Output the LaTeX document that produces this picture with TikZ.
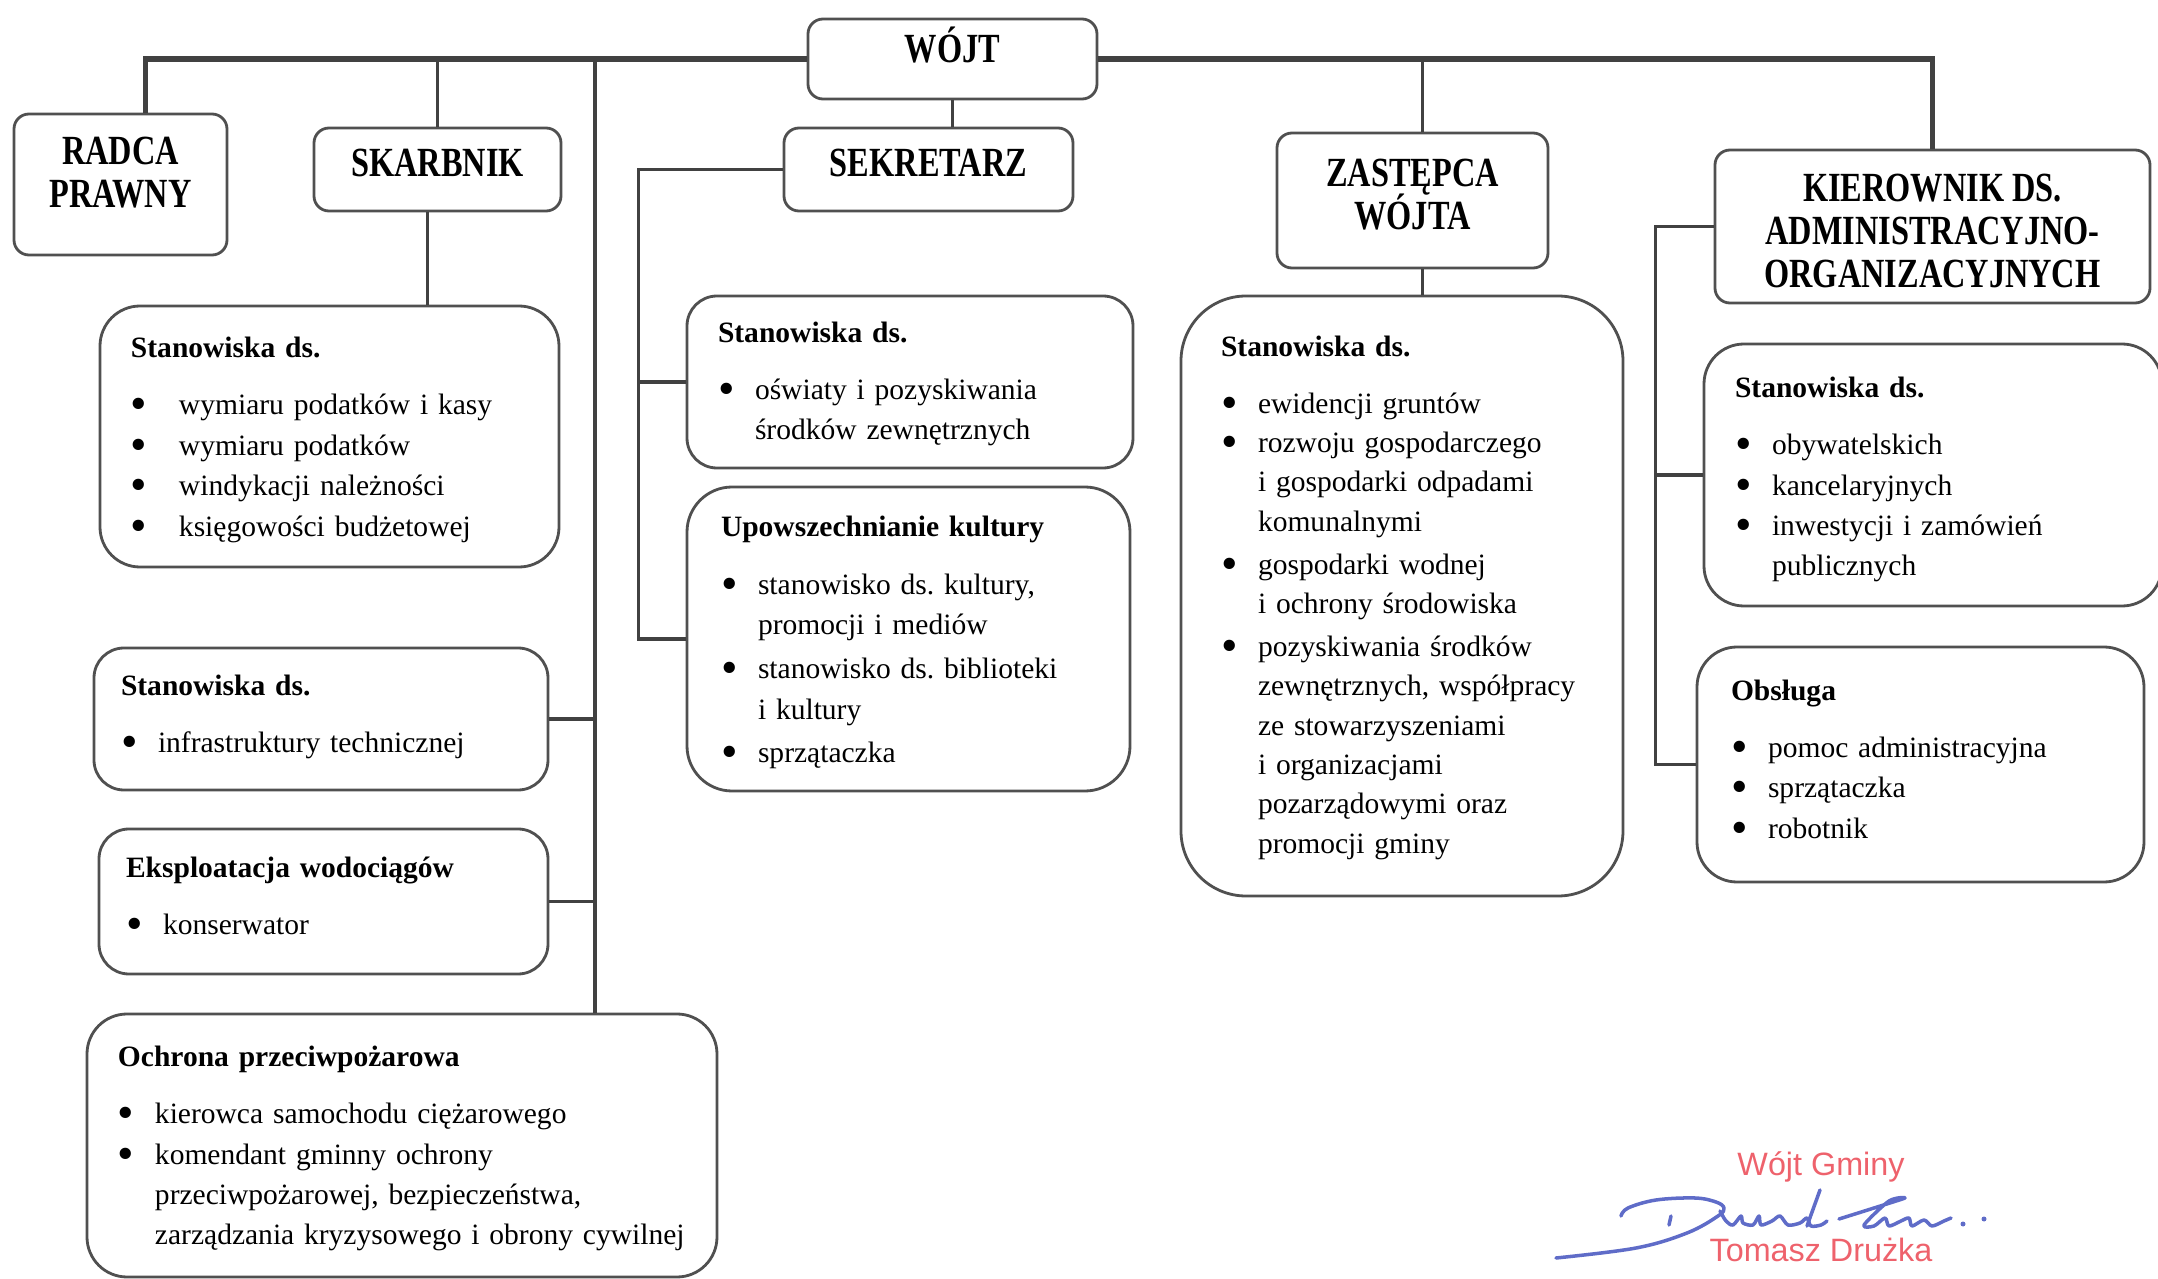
\documentclass[tikz,border=0pt]{standalone}
\usepackage{fontspec}
\setmainfont{Liberation Serif}
\newfontfamily\naglowek[FakeStretch=0.78]{Liberation Serif}
\newfontfamily\pieczatka{Liberation Sans}
\usepackage{tikz}
\usetikzlibrary{positioning}
\frenchspacing
\definecolor{ramka}{RGB}{80,80,80}
\definecolor{kreska}{RGB}{65,65,65}
\definecolor{czerwony}{RGB}{238,98,108}
\definecolor{atrament}{RGB}{95,108,200}
\newcommand{\ciasno}{\setlength{\lineskiplimit}{-6pt}}
\tikzstyle{szef} = [rectangle, rounded corners=0.15cm, draw=ramka, line width=0.8pt, font=\naglowek\fontsize{11.8}{12.2}\selectfont\bfseries\ciasno, align=center, inner sep=0pt]
\tikzstyle{dzial} = [rectangle, rounded corners=0.4cm, draw=ramka, line width=0.8pt, font=\fontsize{8.4}{11.5}\selectfont\ciasno, align=left, inner xsep=0.31cm, inner ysep=0pt]
\tikzstyle{linia} = [draw=kreska, line width=1pt]
\tikzstyle{szyna} = [draw=kreska, line width=1.5pt]
\tikzstyle{pieczec} = [font=\pieczatka\fontsize{9.2}{11}\selectfont, text=czerwony]
\tikzstyle{podpis} = [draw=atrament, line width=1pt, line cap=round, line join=round]
\newcommand{\dol}[1]{\rule[-#1]{0pt}{#1}}
\newcommand{\tytul}[2][0pt]{\noindent\rule{0pt}{\dimexpr 6.2pt+#1\relax}\textbf{#2}\par\vspace{4.8pt}}
\newcommand{\kropka}{\raisebox{-0.17em}{\scalebox{1.6}{\textbullet}}}
\newcommand{\pkt}[2][0.37cm]{\par\noindent\makebox[#1][l]{\kropka}\begin{tabular}[t]{@{}l@{}}#2\end{tabular}}

\begin{document}
\begin{tikzpicture}
\useasboundingbox (0,0) rectangle (21.58,-12.79);
% kierownictwo
\node (wojt) [szef, minimum width=2.89cm, minimum height=0.80cm] at (9.525,-0.59) {WÓJT\dol{0.28cm}};
\node (radca) [szef, minimum width=2.13cm, minimum height=1.41cm] at (1.205,-1.845) {RADCA\\PRAWNY\dol{0.25cm}};
\node (skarbnik) [szef, minimum width=2.47cm, minimum height=0.83cm] at (4.375,-1.695) {SKARBNIK\dol{0.14cm}};
\node (sekretarz) [szef, minimum width=2.89cm, minimum height=0.83cm] at (9.285,-1.695) {SEKRETARZ\dol{0.14cm}};
\node (zastepca) [szef, minimum width=2.71cm, minimum height=1.35cm] at (14.125,-2.005) {ZASTĘPCA\\WÓJTA\dol{0.12cm}};
\node (kierownik) [szef, minimum width=4.35cm, minimum height=1.53cm] at (19.325,-2.265) {\rule{0pt}{0.36cm}KIEROWNIK DS.\\ADMINISTRACYJNO-\\ORGANIZACYJNYCH};
% stanowiska
\node (skStan) [dzial, text width=3.97cm, minimum height=2.61cm] at (3.295,-4.365) {\tytul[3.1pt]{Stanowiska ds.}
  \pkt[0.48cm]{wymiaru podatków i kasy}
  \pkt[0.48cm]{wymiaru podatków}
  \pkt[0.48cm]{windykacji należności}
  \pkt[0.48cm]{księgowości budżetowej}};
\node (infra) [dzial, rounded corners=0.3cm, inner xsep=0.27cm, text width=4.0cm, minimum height=1.42cm] at (3.21,-7.19) {\tytul{Stanowiska ds.}
  \pkt{infrastruktury technicznej}};
\node (eksp) [dzial, rounded corners=0.3cm, inner xsep=0.27cm, text width=3.95cm, minimum height=1.45cm] at (3.235,-9.015) {\tytul{Eksploatacja wodociągów}
  \pkt{konserwator}};
\node (ochrona) [dzial, text width=5.68cm, minimum height=2.63cm] at (4.02,-11.455) {\tytul[3pt]{Ochrona przeciwpożarowa}
  \pkt{kierowca samochodu ciężarowego}
  \pkt{komendant gminny ochrony\\przeciwpożarowej, bezpieczeństwa,\\zarządzania kryzysowego i obrony cywilnej}};
\node (sekStan) [dzial, rounded corners=0.3cm, text width=3.84cm, minimum height=1.72cm] at (9.10,-3.82) {\tytul[2.3pt]{Stanowiska ds.}
  \pkt{oświaty i pozyskiwania\\środków zewnętrznych}};
\node (kultura) [dzial, rounded corners=0.45cm, inner xsep=0.34cm, text width=3.75cm, minimum height=3.04cm] at (9.085,-6.39) {\tytul[3.5pt]{Upowszechnianie kultury}
  \pkt{stanowisko ds. kultury,\\promocji i mediów}
  \pkt{stanowisko ds. biblioteki\\i kultury}
  \pkt{sprzątaczka}};
\node (zaStan) [dzial, font=\fontsize{8.4}{11.2}\selectfont\ciasno, rounded corners=0.65cm, inner xsep=0.40cm, text width=3.62cm, minimum height=6.00cm] at (14.02,-5.96) {\tytul[2.3pt]{Stanowiska ds.}
  \pkt{ewidencji gruntów}
  \pkt{rozwoju gospodarczego\\i gospodarki odpadami\\komunalnymi}
  \pkt{gospodarki wodnej\\i ochrony środowiska}
  \pkt{pozyskiwania środków\\zewnętrznych, współpracy\\ze stowarzyszeniami\\i organizacjami\\pozarządowymi oraz\\promocji gminy}};
\node (kiStan) [dzial, text width=3.96cm, minimum height=2.62cm] at (19.33,-4.75) {\tytul[3.9pt]{Stanowiska ds.}
  \pkt{obywatelskich}
  \pkt{kancelaryjnych}
  \pkt{inwestycji i zamówień\\publicznych}};
\node (obsluga) [dzial, inner xsep=0.34cm, text width=3.79cm, minimum height=2.35cm] at (19.205,-7.645) {\tytul{Obsługa}
  \pkt{pomoc administracyjna}
  \pkt{sprzątaczka}
  \pkt{robotnik}};
% polaczenia
\coordinate (pion) at (5.95,-0.59);
\draw [szyna] ([xshift=0.25cm]radca.north) |- (wojt.west);
\draw [szyna] (wojt.east) -| (kierownik.north);
\draw [linia] (skarbnik.north) -- (skarbnik.north |- wojt.west);
\draw [linia] ([xshift=-0.1cm]skarbnik.south) -- ([xshift=-0.1cm]skarbnik.south |- skStan.north);
\draw [linia] (pion) -- (pion |- ochrona.north);
\draw [linia] (infra.east) -- (infra.east -| pion);
\draw [linia] (eksp.east) -- (eksp.east -| pion);
\draw [linia] (wojt.south) -- (wojt.south |- sekretarz.north);
\draw [linia] (sekretarz.west) -- ++(-1.44,0) coordinate (sk) |- (kultura.west);
\draw [linia] (sekStan.west) -- (sekStan.west -| sk);
\draw [linia] ([xshift=0.1cm]zastepca.north) -- ([xshift=0.1cm]zastepca.north |- wojt.east);
\draw [linia] ([xshift=0.1cm]zastepca.south) -- ([xshift=0.1cm]zastepca.south |- zaStan.north);
\draw [linia] (kierownik.west) -- ++(-0.58,0) coordinate (kp) |- (obsluga.west);
\draw [linia] (kiStan.west) -- (kiStan.west -| kp);
% podpis
\node (gmina) [pieczec] at (18.21,-11.67) {Wójt Gminy};
\node (nazwisko) [pieczec] at (18.21,-12.50) {Tomasz Drużka};
\draw [podpis] plot[smooth, tension=0.6] coordinates {(16.21,-12.16) (16.28,-12.08) (16.56,-12.00) (16.95,-11.98) (17.16,-12.02) (17.24,-12.08) (17.18,-12.16) (16.87,-12.33) (16.36,-12.48) (15.56,-12.58)};
\draw [podpis] (16.71,-12.16) -- (16.69,-12.25);
\draw [podpis] plot[smooth, tension=0.5] coordinates {(17.20,-12.11) (17.26,-12.21) (17.33,-12.25) (17.41,-12.16) (17.43,-12.23) (17.53,-12.25) (17.59,-12.16) (17.61,-12.25) (17.72,-12.21) (17.80,-12.16) (17.88,-12.25) (18.00,-12.23) (18.07,-12.18) (18.11,-12.26) (18.21,-12.25) (18.27,-12.21)};
\draw [podpis] (18.20,-11.90) -- (18.07,-12.26);
\draw [podpis] plot[smooth, tension=0.5] coordinates {(18.39,-12.19) (18.74,-12.08) (19.05,-11.98) (18.89,-12.01) (18.64,-12.25) (18.74,-12.26) (18.85,-12.18) (18.89,-12.26) (19.01,-12.21) (19.09,-12.18) (19.12,-12.26) (19.24,-12.20) (19.32,-12.26) (19.44,-12.21) (19.51,-12.18)};
\fill [atrament] (19.63,-12.24) circle (0.025);
\fill [atrament] (19.84,-12.19) circle (0.025);
\end{tikzpicture}
\end{document}
